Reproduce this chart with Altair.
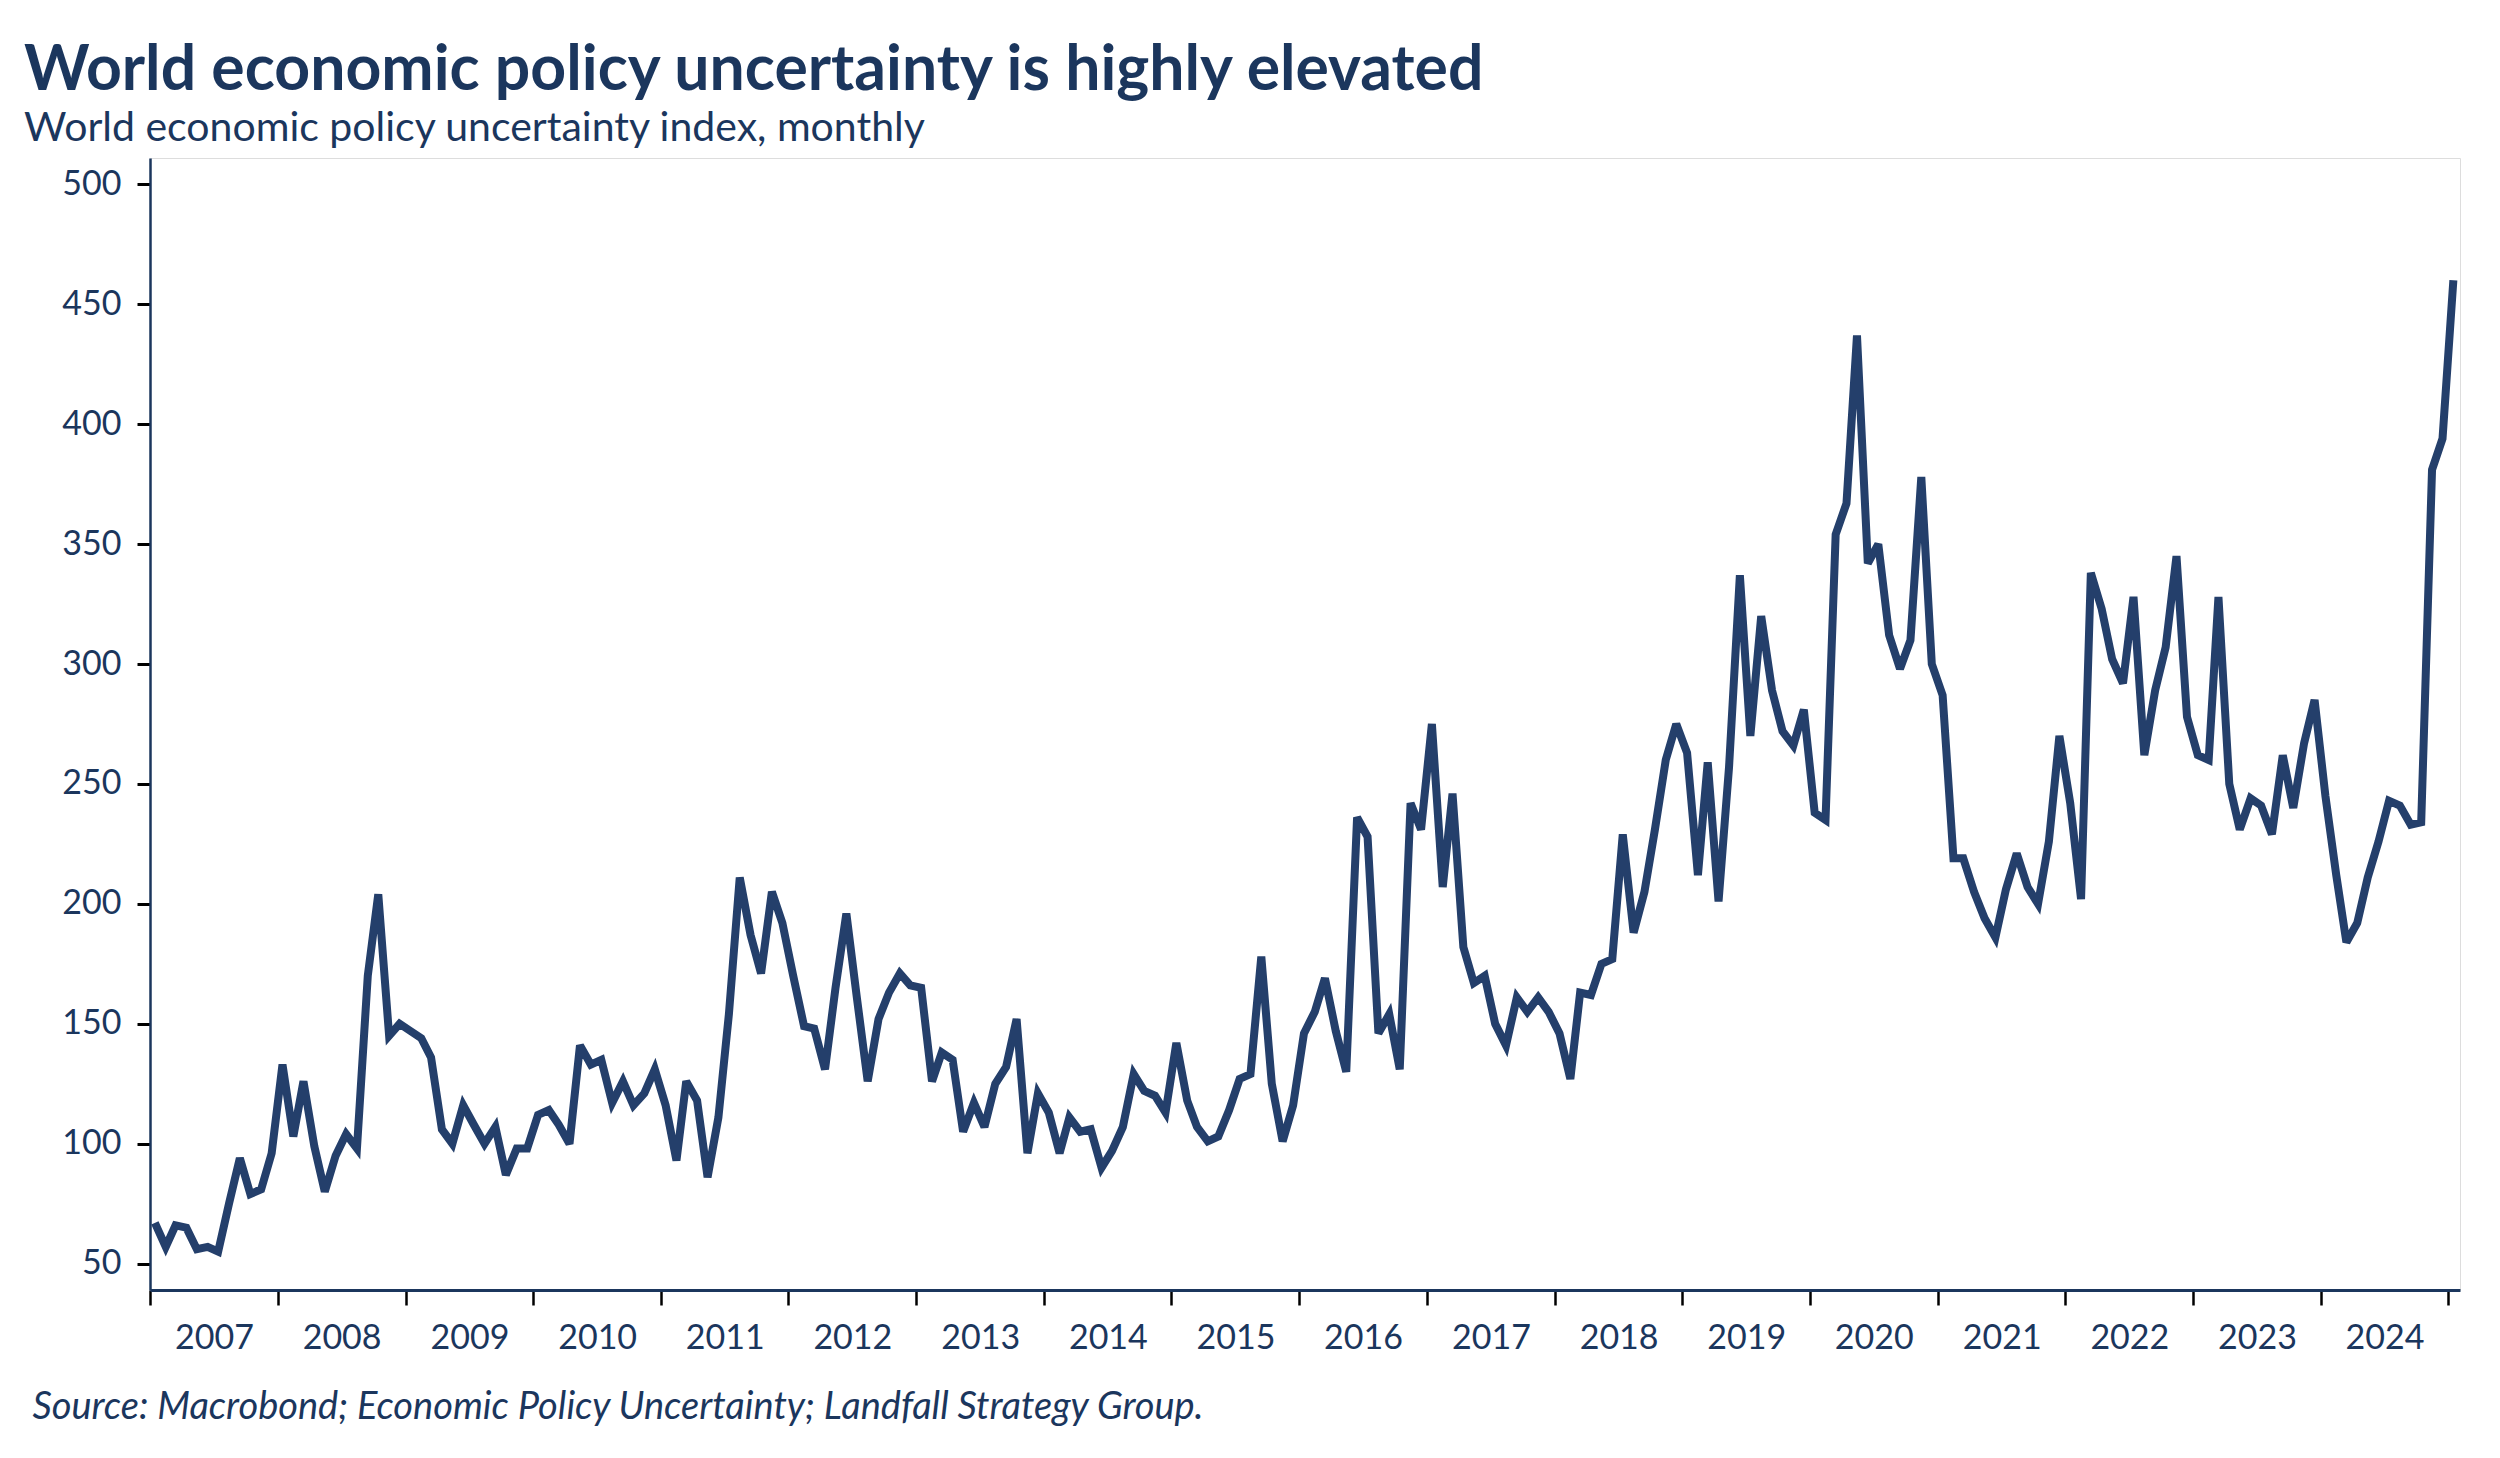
import altair as alt
import pandas as pd

# Monthly index values, Jan 2007 .. Jan 2025
v2007 = [67, 57, 66, 65, 56, 57, 55, 75, 94, 79, 81, 96]
v2008 = [133, 103, 126, 99, 80, 95, 104, 98, 170, 204, 145, 150]
v2009 = [147, 144, 136, 106, 100, 116, 108, 100, 107, 87, 98, 98]
v2010 = [112, 114, 108, 100, 141, 133, 135, 117, 126, 116, 121, 131]
v2011 = [116, 93, 126, 118, 86, 111, 154, 211, 187, 171, 205, 192]
v2012 = [170, 149, 148, 131, 165, 196, 161, 126, 152, 163, 171, 166]
v2013 = [165, 126, 138, 135, 105, 117, 107, 125, 132, 152, 96, 121]
v2014 = [113, 96, 111, 105, 106, 90, 97, 107, 129, 122, 120, 113]
v2015 = [142, 118, 107, 101, 103, 114, 127, 129, 178, 125, 101, 116]
v2016 = [146, 155, 169, 147, 130, 236, 228, 146, 154, 131, 242, 231]
v2017 = [275, 207, 246, 182, 167, 170, 150, 141, 161, 155, 161, 155]
v2018 = [146, 127, 163, 162, 175, 177, 229, 188, 205, 231, 260, 275]
v2019 = [263, 212, 259, 201, 257, 337, 270, 320, 289, 272, 266, 281]
v2020 = [238, 235, 354, 367, 437, 342, 350, 312, 298, 310, 378, 300]
v2021 = [287, 219, 219, 205, 194, 186, 206, 221, 207, 200, 226, 270]
v2022 = [242, 202, 338, 323, 302, 292, 328, 262, 289, 307, 345, 278]
v2023 = [262, 260, 328, 250, 231, 244, 241, 229, 262, 240, 267, 285]
v2024 = [245, 212, 184, 192, 211, 226, 243, 241, 233, 234, 381, 394]
v2025 = [460]

years = list(range(2007, 2026))
series = [v2007, v2008, v2009, v2010, v2011, v2012, v2013, v2014, v2015,
          v2016, v2017, v2018, v2019, v2020, v2021, v2022, v2023, v2024, v2025]

tick_years = list(range(2007, 2026))
y_ticks = [50, 100, 150, 200, 250, 300, 350, 400, 450, 500]

rows = []
for yr, vals in zip(years, series):
    for m, v in enumerate(vals):
        rows.append({"date": f"{yr}-{m + 1:02d}-15T00:00:00", "value": v})
df = pd.DataFrame(rows)

NAVY = "#1B365D"
LINE = "#243F6B"
FONT = "Lato"

x_axis = alt.Axis(
    values=[alt.DateTime(year=y, month=1, date=1) for y in tick_years],
    labelExpr="year(datum.value) >= 2025 ? '' : timeFormat(datum.value, '%Y')",
    labelOffset=64,
    labelFontSize=34,
    labelColor=NAVY,
    labelFont=FONT,
    labelPadding=16,
    labelOverlap=False,
    labelBound=False,
    labelFlush=False,
    tickColor="black",
    tickWidth=2.5,
    tickSize=15,
    domainColor=NAVY,
    domainWidth=3,
    grid=False,
    title="Source: Macrobond; Economic Policy Uncertainty; Landfall Strategy Group.",
    titleFont=FONT,
    titleFontSize=38,
    titleFontStyle="italic",
    titleFontWeight="normal",
    titleColor=NAVY,
    titleAlign="left",
    titleBaseline="alphabetic",
    titleX=-118,
    titleY=128,
)

y_axis = alt.Axis(
    values=y_ticks,
    labelFontSize=34,
    labelColor=NAVY,
    labelFont=FONT,
    labelPadding=16,
    tickColor="black",
    tickWidth=3,
    tickSize=13,
    domainColor=NAVY,
    domainWidth=2.5,
    grid=False,
    title=None,
)

chart = (
    alt.Chart(df)
    .mark_line(color=LINE, strokeWidth=8, strokeJoin="miter", strokeMiterLimit=3)
    .encode(
        x=alt.X(
            "date:T",
            axis=x_axis,
            scale=alt.Scale(domain=[alt.DateTime(year=2007, month=1, date=1),
                                    alt.DateTime(year=2025, month=2, date=3)]),
        ),
        y=alt.Y("value:Q", axis=y_axis, scale=alt.Scale(domain=[39, 511], nice=False, zero=False)),
    )
    .properties(
        width=2310,
        height=1132,
        autosize=alt.AutoSizeParams(type="none"),
        padding={"left": 142, "top": 150, "right": 32, "bottom": 160},
        title=alt.TitleParams(
            text="World economic policy uncertainty is highly elevated",
            subtitle="World economic policy uncertainty index, monthly",
            anchor="start",
            frame="group",
            dx=-126,
            offset=8,
            font=FONT,
            fontSize=62.5,
            fontWeight="bold",
            color=NAVY,
            subtitleFont=FONT,
            subtitleFontSize=41,
            subtitleColor=NAVY,
            subtitlePadding=6,
        ),
    )
    .configure_view(strokeWidth=0, stroke="transparent")
    .configure(background="white")
)

chart.save("out.html", embed_options={"renderer": "svg", "actions": False})
